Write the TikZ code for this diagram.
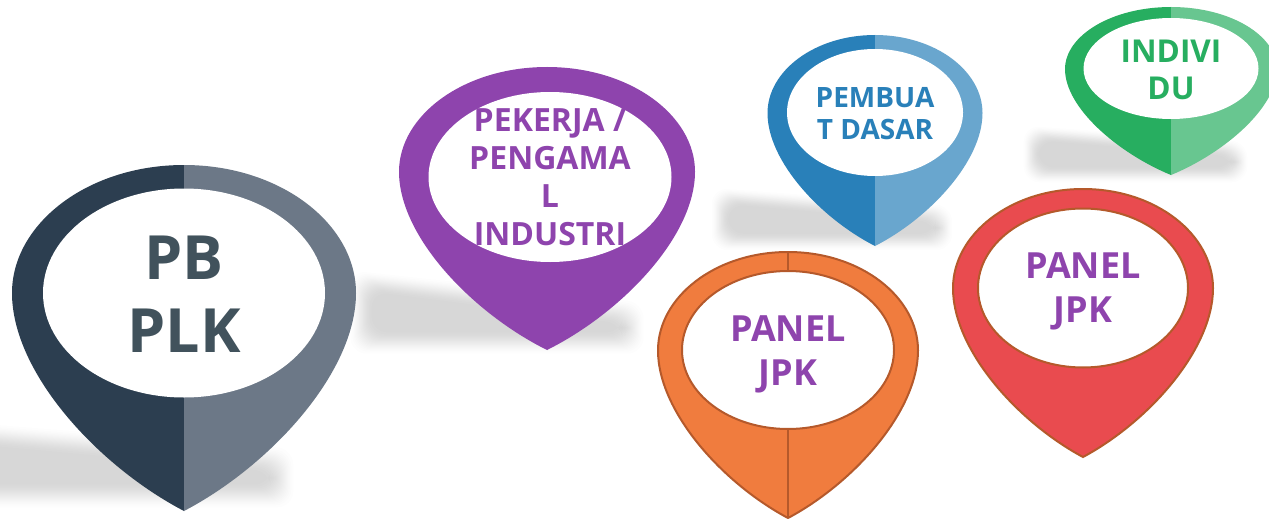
\documentclass[tikz,border=0pt]{standalone}
\usepackage{fontspec}
\setmainfont{Open Sans}
\usetikzlibrary{shapes.geometric}
\definecolor{pbdark}{HTML}{2C3E50}
\definecolor{pblight}{HTML}{6C7887}
\definecolor{purp}{HTML}{8E44AD}
\definecolor{bluedark}{HTML}{2980B9}
\definecolor{bluelight}{HTML}{69A6CE}
\definecolor{greendark}{HTML}{27AE60}
\definecolor{greenlight}{HTML}{68C690}
\definecolor{orangefill}{HTML}{F07C3E}
\definecolor{redfill}{HTML}{E94B4F}
\definecolor{edge}{HTML}{B5592B}
\definecolor{pbtext}{HTML}{41525C}
\tikzset{
  x=1pt,y=-1pt,
  label text/.style={align=center,inner sep=0pt,font=\bfseries\fontsize{#1}{#1}\selectfont},
  hole/.style={draw=none,fill=white},
}
% right half / left half of a pin in a unit box
\def\pinright{(0,0) .. controls (.56,0) and (1,.17) .. (1,.37) .. controls (1,.6) and (.5,.87) .. (0,1) -- cycle}
\def\pinleft{(0,0) .. controls (-.56,0) and (-1,.17) .. (-1,.37) .. controls (-1,.6) and (-.5,.87) .. (0,1) -- cycle}
\def\pinwhole{(0,0) .. controls (.56,0) and (1,.17) .. (1,.37) .. controls (1,.6) and (.5,.87) .. (0,1) .. controls (-.5,.87) and (-1,.6) .. (-1,.37) .. controls (-1,.17) and (-.56,0) .. (0,0) -- cycle}
% #1 cx, #2 top, #3 half width, #4 height, #5 left colour, #6 right colour
\newcommand{\pinhalves}[6]{%
  \begin{scope}[shift={(#1,#2)},xscale=#3,yscale=#4]
    \fill[#5] \pinleft;
    \fill[#6] \pinright;
  \end{scope}}
\newcommand{\pinedged}[5]{%
  \begin{scope}[shift={(#1,#2)},xscale=#3,yscale=#4]
    \path[fill=#5,draw=edge,line width=2pt] \pinwhole;
  \end{scope}}
% blurred shadow: #1 x0, #2 x1, #3 y top at left, #4 y top at right, #5 y bottom, #6 ramp width
% the layers are spaced along an inverse smoothstep, so the edge fades softly
\newcommand{\softshadow}[6]{%
  \foreach \k in {0,...,19}{%
    \pgfmathsetmacro{\ins}{#6*(0.5-sin(asin(1-2*(\k+0.5)/20)/3))}
    \fill[black,opacity=.0093,rounded corners=16pt]
      ({#1+\ins},{#3+\ins}) -- ({#2-\ins},{#4+\ins}) -- ({#2-\ins},{#5-\ins}) -- ({#1+\ins},{#5-\ins}) -- cycle;
  }}
\begin{document}
\begin{tikzpicture}
\useasboundingbox (0,0) rectangle (1269,519);
\clip (0,0) rectangle (1269,519);
\fill[white] (0,0) rectangle (1269,519);
% shadows
\softshadow{-60}{296}{418}{446}{510}{28}
\softshadow{348}{646}{268}{300}{356}{26}
\softshadow{710}{954}{186}{204}{252}{20}
\softshadow{1022}{1249}{124}{140}{184}{18}
% PB PLK
\pinhalves{184}{165}{172}{346}{pbdark}{pblight}
\node[hole,ellipse,inner sep=0pt,minimum width=282pt,minimum height=209pt] (pbhole) at (184,293) {};
\node[label text=61,text=pbtext] (pblabel) at (184,294) {PB\\[12pt]PLK};
% Pekerja
\pinhalves{547}{67}{148}{283}{purp}{purp}
\node[hole,ellipse,inner sep=0pt,minimum width=243pt,minimum height=170pt] (pkhole) at (550,177) {};
\node[label text=32,text=purp] (pklabel) at (550,177) {PEKERJA /\\[6pt]PENGAMA\\[6pt]L\\[6pt]INDUSTRI};
% Pembuat dasar
\pinhalves{875}{35}{107.5}{211}{bluedark}{bluelight}
\node[hole,ellipse,inner sep=0pt,minimum width=176pt,minimum height=127pt] (pdhole) at (875,112.5) {};
\node[label text=28,text=bluedark] (pdlabel) at (875,114) {PEMBUA\\[4pt]T DASAR};
% Individu
\pinhalves{1171}{7}{106}{168}{greendark}{greenlight}
\node[hole,ellipse,inner sep=0pt,minimum width=175pt,minimum height=101pt] (inhole) at (1171,68.5) {};
\node[label text=31.5,text=greendark] (inlabel) at (1171,70) {INDIVI\\[5pt]DU};
% Panel JPK orange
\pinedged{788}{252}{130}{266}{orangefill}
\node[hole,ellipse,draw=edge,line width=2pt,inner sep=0pt,minimum width=212pt,minimum height=158pt] (ophole) at (788,350) {};
\coordinate (optop) at (788,252);
\coordinate (optip) at (788,518);
\draw[edge,line width=1.6pt] (optop) -- (ophole.north);
\draw[edge,line width=1.6pt] (ophole.south) -- (optip);
\node[label text=36,text=purp] (oplabel) at (788,354.5) {PANEL\\[8pt]JPK};
% Panel JPK red
\pinedged{1083}{189}{130}{268}{redfill}
\node[hole,ellipse,draw=edge,line width=2pt,inner sep=0pt,minimum width=210pt,minimum height=159pt] (rdhole) at (1083,288) {};
\node[label text=36,text=purp] (rdlabel) at (1083,291) {PANEL\\[8pt]JPK};
\end{tikzpicture}
\end{document}
